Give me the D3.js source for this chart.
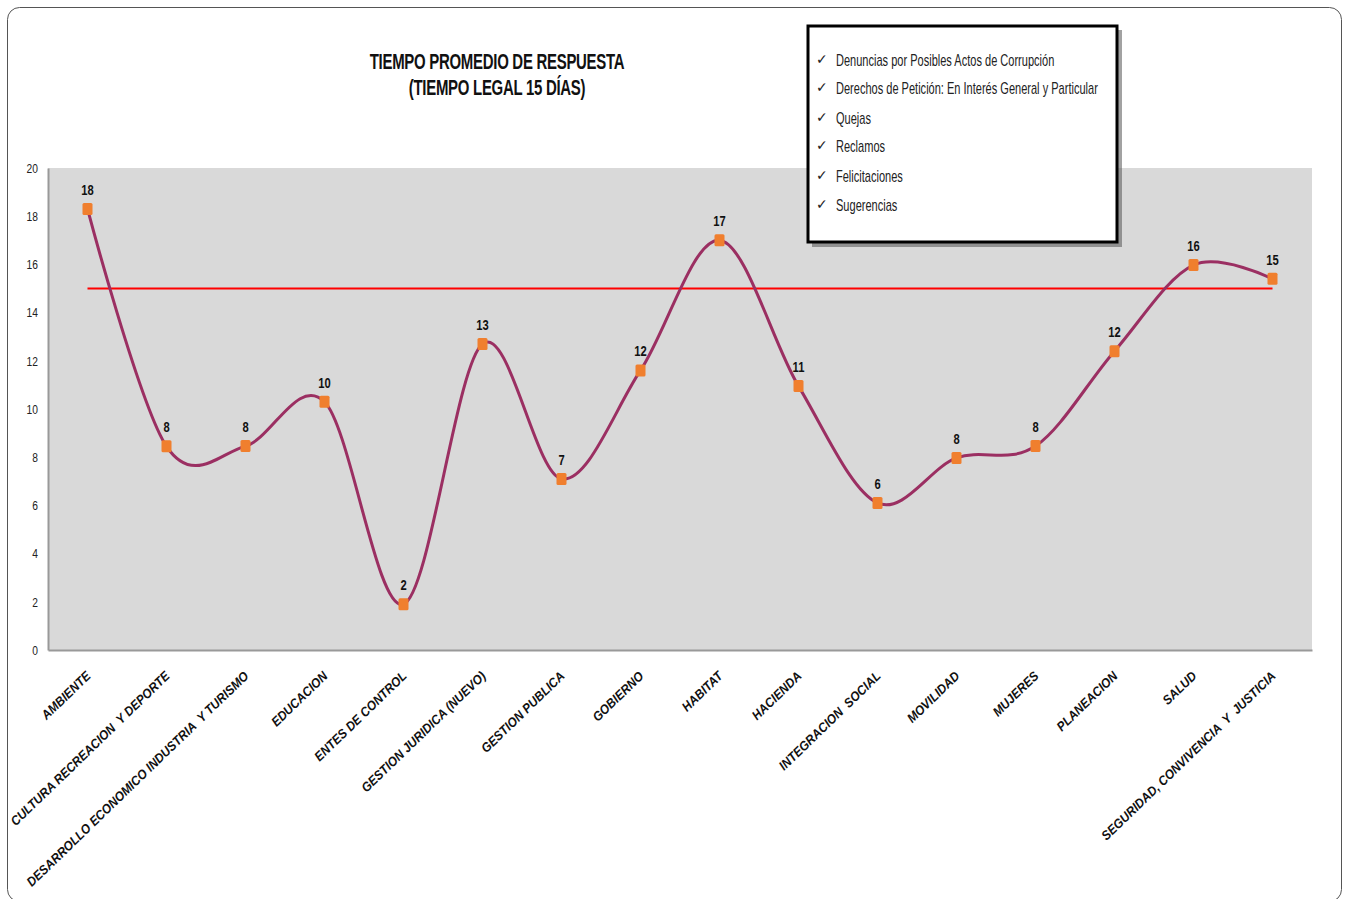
<!DOCTYPE html>
<html><head><meta charset="utf-8">
<script src="https://cdn.jsdelivr.net/npm/d3@7"></script>
<style>body{margin:0;background:#fff}svg{display:block}</style>
</head><body>
<svg id="c" width="1346" height="899"></svg>
<script>
const categories = ["AMBIENTE","CULTURA RECREACION  Y DEPORTE","DESARROLLO ECONOMICO INDUSTRIA  Y TURISMO","EDUCACION","ENTES DE CONTROL","GESTION JURIDICA (NUEVO)","GESTION PUBLICA","GOBIERNO","HABITAT","HACIENDA","INTEGRACION  SOCIAL","MOVILIDAD","MUJERES","PLANEACION","SALUD","SEGURIDAD, CONVIVENCIA  Y  JUSTICIA"];
const values = [18.3,8.45,8.46,10.3,1.9,12.7,7.1,11.6,17.0,10.95,6.1,7.97,8.46,12.4,15.97,15.4];
const legalLimit = 15;
const yTicks = [0,2,4,6,8,10,12,14,16,18,20];
const legendItems = ["Denuncias por Posibles Actos de Corrupción","Derechos de Petición: En Interés General y Particular","Quejas","Reclamos","Felicitaciones","Sugerencias"];
const titleLines = ["TIEMPO PROMEDIO DE RESPUESTA","(TIEMPO LEGAL 15 DÍAS)"];

const svg = d3.select("#c");
const sans = "'Liberation Sans',Arial,sans-serif";
const pl = 48, pr = 1312, pt = 168, pb = 650;

svg.append("rect").attr("x",7.5).attr("y",7.5).attr("width",1334).attr("height",894).attr("rx",12)
  .attr("fill","#fff").attr("stroke","#555").attr("stroke-width",1);

const x = d3.scaleBand().domain(categories).range([pl,pr]);
const y = d3.scaleLinear().domain([0,20]).range([pb,pt]);

svg.append("rect").attr("x",pl).attr("y",pt).attr("width",pr-pl).attr("height",pb-pt).attr("fill","#d9d9d9");

// axes
const ya = svg.append("g").attr("transform",`translate(${pl},0)`)
  .call(d3.axisLeft(y).tickValues(yTicks).tickSize(0).tickPadding(0));
ya.select(".domain").attr("stroke","#999").attr("stroke-width",2);
ya.selectAll(".tick text").attr("x",null).attr("font-family",sans).attr("font-size",13.5).attr("fill","#222")
  .attr("text-anchor","end").attr("transform","translate(-10,0) scale(0.76,1)");

const xa = svg.append("g").attr("transform",`translate(0,${pb})`)
  .call(d3.axisBottom(x).tickSize(0).tickPadding(0));
xa.select(".domain").attr("stroke","#999").attr("stroke-width",2);
xa.selectAll("text").attr("font-family",sans).attr("font-size",13)
  .attr("font-weight","bold").attr("font-style","italic").attr("fill","#111")
  .attr("text-anchor","end").attr("dy",0).attr("y",0)
  .attr("transform","translate(4,27) rotate(-44) scale(0.92,1)").style("white-space","pre");

// limit line
const cx = d => x(d)+x.bandwidth()/2;
svg.append("line").attr("x1",cx(categories[0])).attr("x2",cx(categories[categories.length-1]))
  .attr("y1",y(legalLimit)).attr("y2",y(legalLimit)).attr("stroke","#ff0000").attr("stroke-width",2);

// series line
const line = d3.line().x((d,i)=>cx(categories[i])).y(d=>y(d)).curve(d3.curveCardinal.tension(0));
svg.append("path").datum(values).attr("d",line).attr("fill","none").attr("stroke","#9b2f62").attr("stroke-width",3);

svg.selectAll("rect.m").data(values).join("rect").attr("class","m")
  .attr("x",(d,i)=>cx(categories[i])-5).attr("y",d=>y(d)-6).attr("width",10).attr("height",12).attr("rx",1.5)
  .attr("fill","#f07f2e");

svg.selectAll("text.dl").data(values).join("text").attr("class","dl")
  .attr("transform",(d,i)=>`translate(${cx(categories[i])},${y(d)-14}) scale(0.8,1)`).attr("text-anchor","middle")
  .attr("font-family",sans).attr("font-weight","bold").attr("font-size",14).attr("fill","#111")
  .text(d=>d3.format(".0f")(d));

// title
svg.selectAll("text.t").data(titleLines).join("text").attr("class","t")
  .attr("transform",(d,i)=>`translate(497,${69+i*26}) scale(0.68,1)`).attr("text-anchor","middle")
  .attr("font-family",sans).attr("font-weight","bold").attr("font-size",22).attr("letter-spacing",-0.4).attr("fill","#111")
  .text(d=>d);

// legend box
svg.append("rect").attr("x",812).attr("y",30).attr("width",310).attr("height",217).attr("fill","#555").attr("opacity",0.55);
svg.append("rect").attr("x",808).attr("y",26).attr("width",309).attr("height",216).attr("fill","#fff").attr("stroke","#000").attr("stroke-width",3);
const lg = svg.selectAll("g.li").data(legendItems).join("g").attr("class","li")
  .attr("transform",(d,i)=>`translate(0,${[66,94,124,152,182,211][i]})`);
lg.append("text").attr("x",816).attr("y",-2).attr("font-family","'DejaVu Sans',sans-serif").attr("font-size",14).attr("fill","#222").text("✓");
lg.append("text").attr("transform","translate(836,0) scale(0.69,1)").attr("font-family",sans).attr("font-size",16).attr("fill","#222").text(d=>d);
</script>
</body></html>
